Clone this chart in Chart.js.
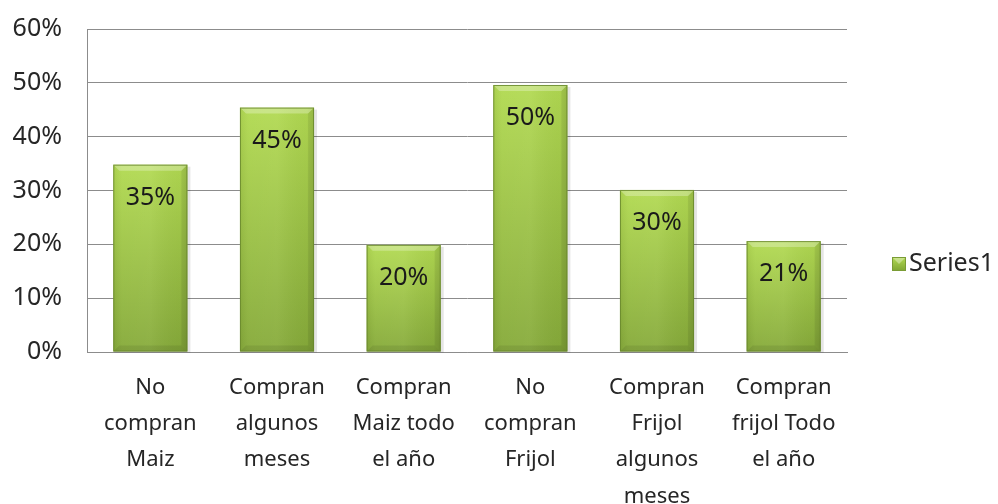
<!DOCTYPE html>
<html>
<head>
<meta charset="utf-8">
<script src="https://cdn.jsdelivr.net/npm/chart.js@4.4.1/dist/chart.umd.min.js"></script>
<style>
  html, body { margin: 0; padding: 0; background: #fff; }
  #wrap { width: 998px; height: 504px; }
</style>
</head>
<body>
<div id="wrap"><canvas id="chart"></canvas></div>
<script>
// datos
const categories = [
  ['No', 'compran', 'Maiz'],
  ['Compran', 'algunos', 'meses'],
  ['Compran', 'Maiz todo', 'el año'],
  ['No', 'compran', 'Frijol'],
  ['Compran', 'Frijol', 'algunos', 'meses'],
  ['Compran', 'frijol Todo', 'el año']
];
const values = [0.348, 0.454, 0.199, 0.496, 0.301, 0.206];
const valueLabels = ['35%', '45%', '20%', '50%', '30%', '21%'];
const yTicks = [0, 0.1, 0.2, 0.3, 0.4, 0.5, 0.6];
const seriesName = 'Series1';

const FONT = '"Noto Sans", "Liberation Sans", sans-serif';
const TEXT = '#262626';

// barras con bisel tipo Excel
const bevelBars = {
  id: 'bevelBars',
  afterDatasetsDraw(chart) {
    const c = chart.ctx;
    chart.getDatasetMeta(0).data.forEach((bar, i) => {
      const w = bar.width;
      const x0 = bar.x - w / 2, x1 = bar.x + w / 2;
      const y0 = bar.y, y1 = bar.base;
      const h = y1 - y0;
      const b = Math.min(6, h / 2);
      c.save();
      // sombra suave
      c.fillStyle = 'rgba(0,0,0,0.10)';
      c.fillRect(x0 + 1, y0 + 2, w + 2, h - 1);
      let g = c.createLinearGradient(0, y0, 0, y1);
      g.addColorStop(0, '#b2da52');
      g.addColorStop(1, '#86aa3a');
      c.fillStyle = g;
      c.fillRect(x0, y0, w, h);
      // sombreado horizontal
      g = c.createLinearGradient(x0, 0, x1, 0);
      g.addColorStop(0, 'rgba(0,0,0,0.06)');
      g.addColorStop(0.12, 'rgba(255,255,255,0.04)');
      g.addColorStop(0.5, 'rgba(255,255,255,0.06)');
      g.addColorStop(0.9, 'rgba(0,0,0,0.03)');
      g.addColorStop(1, 'rgba(0,0,0,0.10)');
      c.fillStyle = g;
      c.fillRect(x0, y0, w, h);
      // bisel superior
      c.fillStyle = 'rgba(255,255,255,0.28)';
      c.beginPath();
      c.moveTo(x0, y0); c.lineTo(x1, y0); c.lineTo(x1 - b, y0 + b); c.lineTo(x0 + b, y0 + b);
      c.closePath(); c.fill();
      // bisel derecho e inferior
      c.fillStyle = 'rgba(0,0,0,0.06)';
      c.beginPath();
      c.moveTo(x1, y0); c.lineTo(x1 - b, y0 + b); c.lineTo(x1 - b, y1 - b); c.lineTo(x1, y1);
      c.closePath(); c.fill();
      c.fillStyle = 'rgba(0,0,0,0.08)';
      c.beginPath();
      c.moveTo(x0, y1); c.lineTo(x0 + b, y1 - b); c.lineTo(x1 - b, y1 - b); c.lineTo(x1, y1);
      c.closePath(); c.fill();
      c.strokeStyle = 'rgba(105,135,45,0.85)';
      c.lineWidth = 1;
      c.strokeRect(x0 + 0.5, y0 + 0.5, w - 1, h - 1);

      // etiqueta de valor
      c.fillStyle = '#1a1a1a';
      c.font = '25px ' + FONT;
      c.textAlign = 'center';
      c.textBaseline = 'middle';
      c.fillText(valueLabels[i], bar.x, y0 + 33);
      c.restore();
    });

    // leyenda
    const area = chart.chartArea;
    const lx = area.right + 45, ly = 264;
    c.save();
    let g = c.createLinearGradient(0, ly - 7, 0, ly + 7);
    g.addColorStop(0, '#b2da52');
    g.addColorStop(1, '#7fa533');
    c.fillStyle = g;
    c.fillRect(lx, ly - 7, 14, 14);
    c.fillStyle = 'rgba(255,255,255,0.35)';
    c.beginPath();
    c.moveTo(lx, ly - 7); c.lineTo(lx + 14, ly - 7); c.lineTo(lx + 7, ly); c.closePath(); c.fill();
    c.strokeStyle = '#7a9c35';
    c.strokeRect(lx + 0.5, ly - 6.5, 13, 13);
    c.fillStyle = TEXT;
    c.font = '25px ' + FONT;
    c.textAlign = 'left';
    c.textBaseline = 'middle';
    c.fillText(chart.data.datasets[0].label, lx + 17, ly);
    c.restore();
  }
};

new Chart(document.getElementById('chart'), {
  type: 'bar',
  data: {
    labels: categories,
    datasets: [{
      label: seriesName,
      data: values,
      backgroundColor: 'rgba(0,0,0,0)',
      barPercentage: 0.585,
      categoryPercentage: 1
    }]
  },
  options: {
    responsive: true,
    maintainAspectRatio: false,
    animation: false,
    layout: { padding: { top: 29, right: 151, bottom: 0, left: 0 } },
    plugins: { legend: { display: false }, tooltip: { enabled: false } },
    scales: {
      x: {
        grid: { display: false, drawTicks: false },
        border: { color: '#8c8c8c' },
        ticks: {
          color: TEXT,
          font: { family: FONT, size: 22, lineHeight: 1.64 },
          padding: 18,
          maxRotation: 0,
          autoSkip: false
        },
        afterFit(scale) { scale.height = 152; }
      },
      y: {
        min: 0,
        max: 0.6,
        afterBuildTicks(scale) { scale.ticks = yTicks.map(v => ({ value: v })); },
        grid: { color: '#8c8c8c', drawTicks: false },
        border: { color: '#8c8c8c' },
        ticks: {
          color: TEXT,
          font: { family: FONT, size: 25 },
          padding: 25,
          callback: v => Math.round(v * 100) + '%'
        },
        afterFit(scale) {
          scale.width = 87;
          scale.paddingTop = 0;
          scale.paddingBottom = 0;
        }
      }
    }
  },
  plugins: [bevelBars]
});
</script>
</body>
</html>
